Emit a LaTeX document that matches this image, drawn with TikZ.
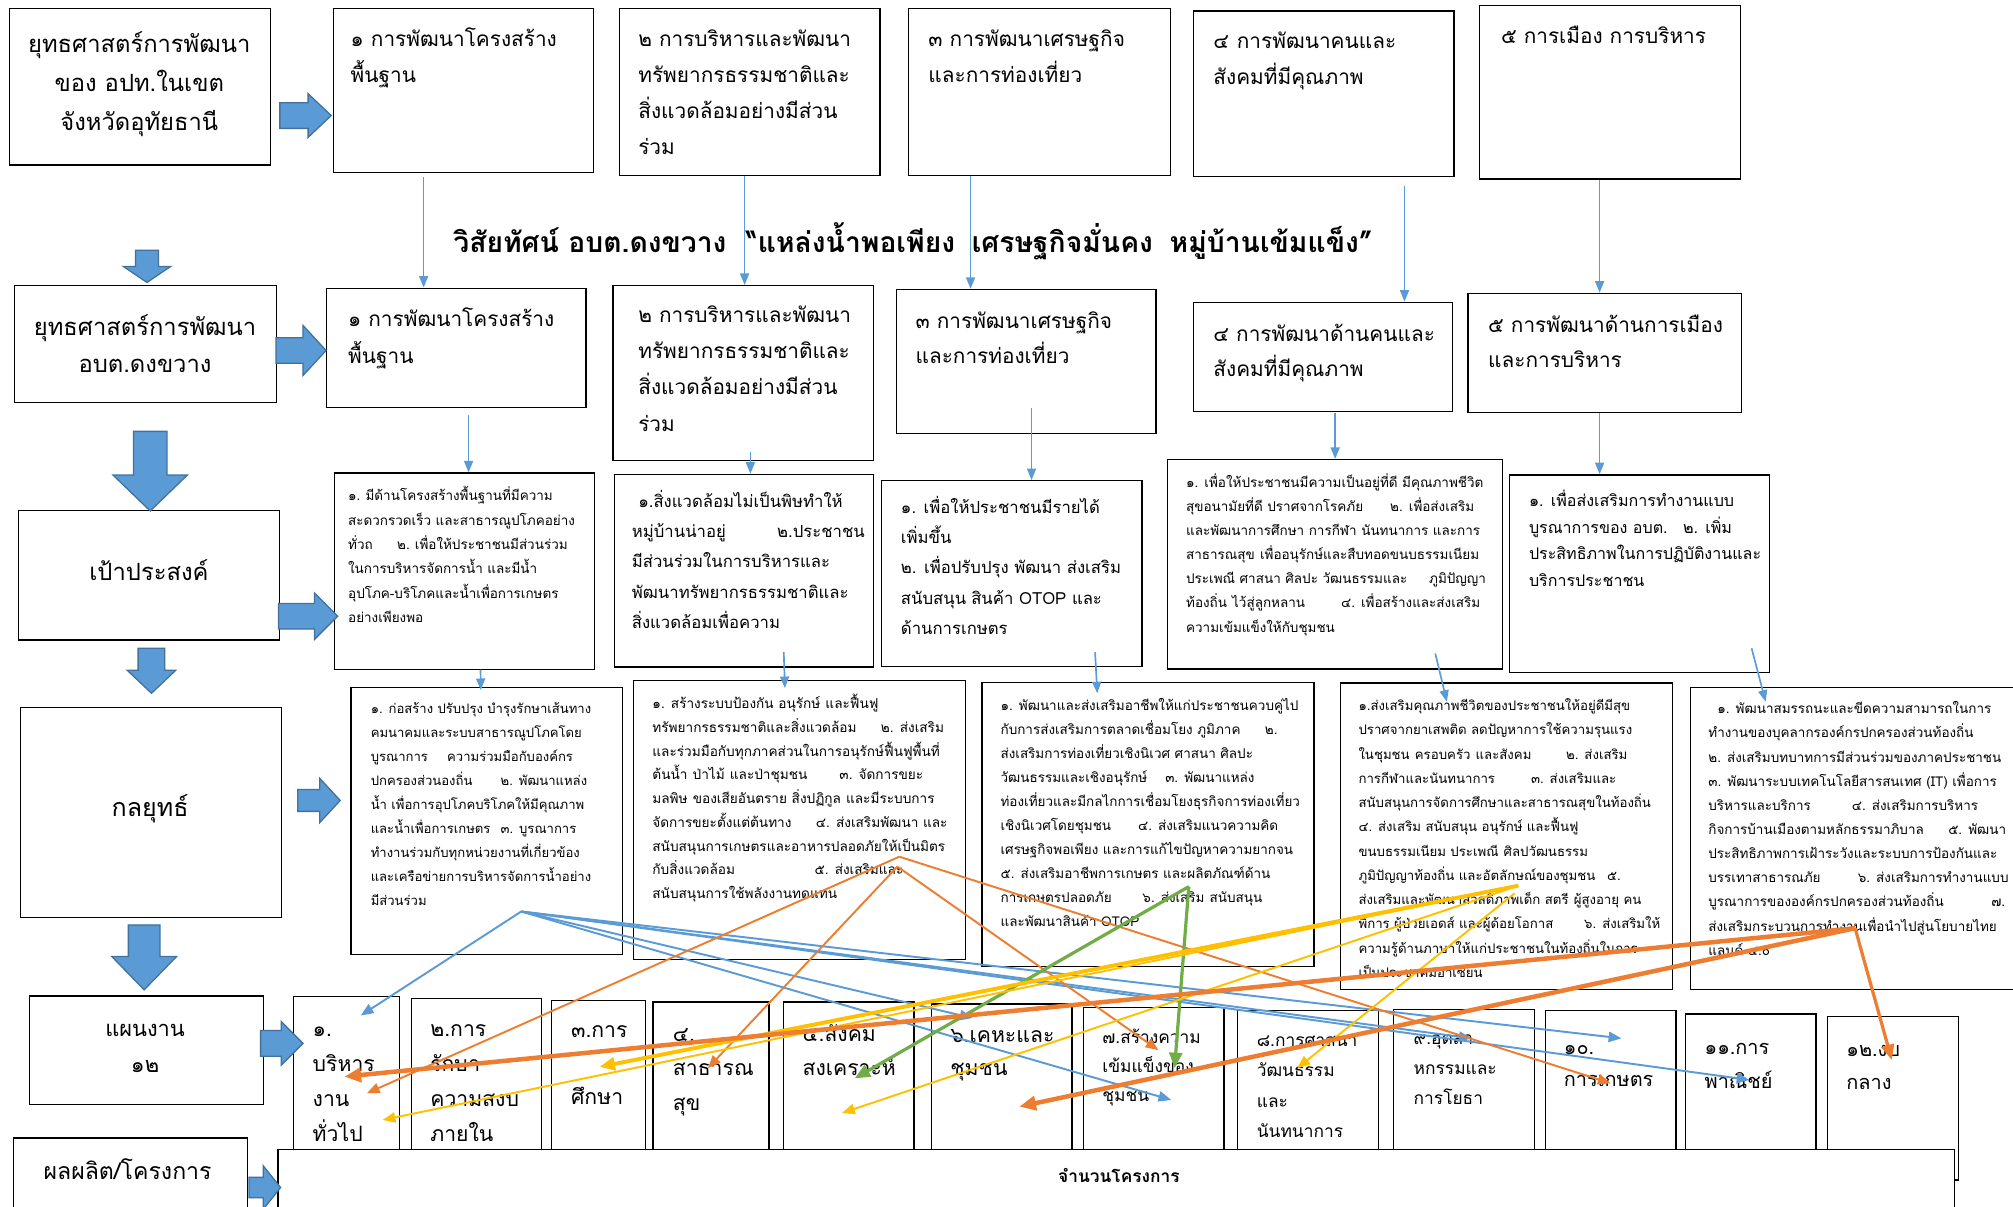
\documentclass[tikz,border=0pt]{standalone}
\usepackage{fontspec}
\newfontfamily\thai[Script=Thai]{Loma}
\usetikzlibrary{arrows.meta,calc}
\definecolor{abl}{HTML}{5B9BD5}
\definecolor{abd}{HTML}{41719C}
\definecolor{aor}{HTML}{ED7D31}
\definecolor{agr}{HTML}{70AD47}
\definecolor{aye}{HTML}{FFC000}
\newcommand\fs[2]{\fontsize{#1}{#2}\selectfont}
\newcommand\lns[1]{\begin{tabular}[t]{@{}l@{}}#1\end{tabular}}
\newcommand\clns[1]{\begin{tabular}[t]{@{}c@{}}#1\end{tabular}}
\newcommand\gp[1]{\hspace*{#1pt}}
\newcommand\bx[5]{\node[box, minimum width={(#4-#2)*1pt}, minimum height={(#5-#3)*1pt}] (#1) at (#2,#3) {};}
\newcommand\tx[5]{\node[txt, font=\thai\fs{#3}{#4}] (#1) at (#2) {\lns{#5}};}
\newcommand\ctx[5]{\node[ctxt, font=\thai\fs{#3}{#4}] (#1) at (#2) {\clns{#5}};}
\newcommand\rarr[6]{\filldraw[barrow] (#1,{#3-#4}) -- (#6,{#3-#4}) -- (#6,{#3-#5}) -- (#2,#3) -- (#6,{#3+#5}) -- (#6,{#3+#4}) -- (#1,{#3+#4}) -- cycle;}
\newcommand\darr[6]{\filldraw[barrow] ({#1-#4},#2) -- ({#1+#4},#2) -- ({#1+#4},#6) -- ({#1+#5},#6) -- (#1,#3) -- ({#1-#5},#6) -- ({#1-#4},#6) -- cycle;}
\begin{document}
\begin{tikzpicture}[x=1pt,y=-1pt,
  box/.style={draw=black, line width=1pt, fill=white, inner sep=0pt, anchor=north west},
  txt/.style={anchor=base west, inner sep=0pt},
  ctxt/.style={anchor=base, inner sep=0pt},
  barrow/.style={fill=abl, draw=abd, line width=1pt},
  conn/.style={draw=abl, line width=1.3pt, -{Triangle[length=9pt,width=7pt]}},
  cthin/.style={line width=1.5pt, -{Triangle[length=10pt,width=8pt]}},
  cmid/.style={line width=2.5pt, -{Triangle[length=12pt,width=10pt]}},
  cthick/.style={line width=3.5pt, -{Triangle[length=13pt,width=11pt]}}]
\useasboundingbox (0,0) rectangle (1568,940);
\fill[white] (0,0) rectangle (1568,940);
\clip (0,0) rectangle (1568,940);
% ---------- boxes ----------
\bx{a1}{7}{6}{210}{128}
\bx{b1}{259}{6}{462}{134}
\bx{b2}{482}{6}{685}{136}
\bx{b3}{707}{6}{911}{136}
\bx{b4}{929}{8}{1132}{137}
\bx{b5}{1152}{4}{1355}{139}
\bx{a2}{11}{222}{215}{313}
\bx{c1}{254}{224}{456}{317}
\bx{c2}{477}{222}{680}{358}
\bx{c3}{698}{225}{900}{337}
\bx{c4}{929}{235}{1131}{320}
\bx{c5}{1143}{228}{1356}{321}
\bx{a3}{14}{397}{217}{498}
\bx{d1}{260}{368}{462.6}{520.8}
\bx{d2}{478}{369}{680}{519}
\bx{d3}{686.4}{374}{889}{518.7}
\bx{d4}{908.7}{357.5}{1170}{520.5}
\bx{d5}{1175.3}{369.4}{1378}{523.6}
\bx{a4}{15.6}{550.4}{218.6}{714}
\bx{e1}{272.8}{535}{484.2}{743}
\bx{e2}{493}{529.7}{751.4}{747}
\bx{e3}{764.3}{531}{1023}{752.5}
\bx{e4}{1043.5}{531.5}{1302}{770}
\bx{e5}{1316}{535}{1580}{770}
\bx{a5}{22.4}{775.3}{204.7}{859.7}
\bx{f1}{228}{775.6}{310.5}{905}
\bx{f2}{320}{777}{421.3}{905}
\bx{f3}{429.2}{779}{502.3}{905}
\bx{f4}{508.2}{780}{598.6}{905}
\bx{f5}{609.6}{780}{711.4}{905}
\bx{f6}{725.3}{781.5}{834.4}{905}
\bx{f7}{843.4}{784}{953}{905}
\bx{f8}{963.2}{786.7}{1073}{905}
\bx{f9}{1085}{785.7}{1194.7}{905}
\bx{f10}{1203.3}{786.7}{1305}{905}
\bx{f11}{1312.5}{789.3}{1414}{905}
\bx{f12}{1423.2}{791}{1524.9}{918.6}
\bx{a6}{10}{886}{192.3}{960}
\bx{g}{216.1}{894.7}{1522}{960}
% ---------- block arrows ----------
\rarr{218}{258}{90}{10}{17}{240}
\rarr{215}{254}{273}{10}{19.5}{236}
\rarr{217}{263}{480}{10}{18}{245}
\rarr{232}{265}{623.5}{8.5}{17.3}{249}
\rarr{203}{236}{812.7}{10}{17}{219}
\rarr{194}{218.6}{925}{8}{17}{205}
\darr{114.5}{195}{220}{9}{18.5}{207.5}
\darr{117}{336}{398}{13}{29}{370}
\darr{118}{505}{540}{10.4}{19}{522}
\darr{112.3}{720.5}{771}{12.3}{25.3}{745}
% ---------- texts ----------
\ctx{a1t}{108.5,41}{18.5}{30.5}{ยุทธศาสตร์การพัฒนา\\ของ อปท.ในเขต\\จังหวัดอุทัยธานี}
\tx{b1t}{273,36}{16.2}{28}{๑ การพัฒนาโครงสร้าง\\พื้นฐาน}
\tx{b2t}{497,36}{16.2}{28}{๒ การบริหารและพัฒนา\\ทรัพยากรธรรมชาติและ\\สิ่งแวดล้อมอย่างมีส่วน\\ร่วม}
\tx{b3t}{723,36}{16.2}{28}{๓ การพัฒนาเศรษฐกิจ\\และการท่องเที่ยว}
\tx{b4t}{945,38}{16.2}{28}{๔\gp{6}การพัฒนาคนและ\\สังคมที่มีคุณภาพ}
\tx{b5t}{1169,34}{16.2}{28}{๕ การเมือง การบริหาร}
\node[txt, font=\thai\bfseries\fs{22}{26}] (ttl1) at (353,197) {วิสัยทัศน์ อบต.ดงขวาง};
\node[txt, font=\thai\bfseries\fs{22}{26}] (ttl2) at (581,197) {“แหล่งน้ำพอเพียง\gp{13}เศรษฐกิจมั่นคง\gp{13}หมู่บ้านเข้มแข็ง”};
\ctx{a2t}{113,261}{18.5}{29}{ยุทธศาสตร์การพัฒนา\\อบต.ดงขวาง}
\tx{c1t}{271,254.5}{16.2}{28.5}{๑ การพัฒนาโครงสร้าง\\พื้นฐาน}
\tx{c2t}{497,251}{16.2}{28.3}{๒ การบริหารและพัฒนา\\ทรัพยากรธรรมชาติและ\\สิ่งแวดล้อมอย่างมีส่วน\\ร่วม}
\tx{c3t}{713,256}{16.2}{27}{๓ การพัฒนาเศรษฐกิจ\\และการท่องเที่ยว}
\tx{c4t}{945,266}{16.2}{27}{๔ การพัฒนาด้านคนและ\\สังคมที่มีคุณภาพ}
\tx{c5t}{1159,259}{16.2}{27}{๕ การพัฒนาด้านการเมือง\\และการบริหาร}
\ctx{a3t}{116,452}{18.5}{24}{เป้าประสงค์}
\tx{d1t}{271,390}{10.5}{19}{๑.\gp{4}มีด้านโครงสร้างพื้นฐานที่มีความ\\สะดวกรวดเร็ว และสาธารณูปโภคอย่าง\\ทั่วถ\gp{19}๒.\gp{4}เพื่อให้ประชาชนมีส่วนร่วม\\ในการบริหารจัดการน้ำ และมีน้ำ\\อุปโภค-บริโภคและน้ำเพื่อการเกษตร\\อย่างเพียงพอ}
\tx{d2t}{492,395}{13}{23.6}{\gp{5}๑.สิ่งแวดล้อมไม่เป็นพิษทำให้\\หมู่บ้านน่าอยู่\gp{40}๒.ประชาชน\\มีส่วนร่วมในการบริหารและ\\พัฒนาทรัพยากรธรรมชาติและ\\สิ่งแวดล้อมเพื่อความ}
\tx{d3t}{701.6,400}{13}{23.5}{๑. เพื่อให้ประชาชนมีรายได้\\เพิ่มขึ้น\\๒. เพื่อปรับปรุง พัฒนา ส่งเสริม\\สนับสนุน\gp{4}สินค้า OTOP และ\\ด้านการเกษตร}
\tx{d4t}{923.7,379.5}{10.5}{18.8}{๑. เพื่อให้ประชาชนมีความเป็นอยู่ที่ดี มีคุณภาพชีวิต\\สุขอนามัยที่ดี ปราศจากโรคภัย\gp{21}๒. เพื่อส่งเสริม\\และพัฒนาการศึกษา การกีฬา นันทนาการ และการ\\สาธารณสุข\gp{4}เพื่ออนุรักษ์และสืบทอดขนบธรรมเนียม\\ประเพณี ศาสนา ศิลปะ วัฒนธรรมและ\gp{17}ภูมิปัญญา\\ท้องถิ่น\gp{4}ไว้สู่ลูกหลาน\gp{28}๔. เพื่อสร้างและส่งเสริม\\ความเข้มแข็งให้กับชุมชน}
\tx{d5t}{1190.8,394.5}{12.5}{20.8}{๑. เพื่อส่งเสริมการทำงานแบบ\\บูรณาการของ อบต.\gp{12}๒. เพิ่ม\\ประสิทธิภาพในการปฏิบัติงานและ\\บริการประชาชน}
\ctx{a4t}{117,636}{19.5}{24}{กลยุทธ์}
\tx{e1t}{288.6,556}{10.2}{18.7}{๑. ก่อสร้าง ปรับปรุง บำรุงรักษาเส้นทาง\\คมนาคมและระบบสาธารณูปโภคโดย\\บูรณาการ\gp{15}ความร่วมมือกับองค์กร\\ปกครองส่วนองถิ่น\gp{22}๒. พัฒนาแหล่ง\\น้ำ เพื่อการอุปโภคบริโภคให้มีคุณภาพ\\และน้ำเพื่อการเกษตร\gp{8}๓. บูรณาการ\\ทำงานร่วมกับทุกหน่วยงานที่เกี่ยวข้อง\\และเครือข่ายการบริหารจัดการน้ำอย่าง\\มีส่วนร่วม}
\tx{e2t}{508,552}{10.6}{18.5}{๑. สร้างระบบป้องกัน อนุรักษ์\gp{4}และฟื้นฟู\\ทรัพยากรธรรมชาติและสิ่งแวดล้อม\gp{19}๒. ส่งเสริม\\และร่วมมือกับทุกภาคส่วนในการอนุรักษ์ฟื้นฟูพื้นที่\\ต้นน้ำ\gp{4}ป่าไม้\gp{4}และป่าชุมชน\gp{25}๓. จัดการขยะ\\มลพิษ\gp{4}ของเสียอันตราย สิ่งปฏิกูล\gp{4}และมีระบบการ\\จัดการขยะตั้งแต่ต้นทาง\gp{19}๔. ส่งเสริมพัฒนา และ\\สนับสนุนการเกษตรและอาหารปลอดภัยให้เป็นมิตร\\กับสิ่งแวดล้อม\gp{62}๕. ส่งเสริมและ\\สนับสนุนการใช้พลังงานทดแทน}
\tx{e3t}{779.2,553.5}{10.5}{18.7}{๑. พัฒนาและส่งเสริมอาชีพให้แก่ประชาชนควบคู่ไป\\กับการส่งเสริมการตลาดเชื่อมโยง ภูมิภาค\gp{19}๒.\\ส่งเสริมการท่องเที่ยวเชิงนิเวศ ศาสนา ศิลปะ\\วัฒนธรรมและเชิงอนุรักษ์\gp{14}๓. พัฒนาแหล่ง\\ท่องเที่ยวและมีกลไกการเชื่อมโยงธุรกิจการท่องเที่ยว\\เชิงนิเวศโดยชุมชน\gp{21}๔. ส่งเสริมแนวความคิด\\เศรษฐกิจพอเพียง และการแก้ไขปัญหาความยากจน\\๕. ส่งเสริมอาชีพการเกษตร และผลิตภัณฑ์ด้าน\\การเกษตรปลอดภัย\gp{24}๖. ส่งเสริม\gp{4}สนับสนุน\\และพัฒนาสินค้า OTOP}
\tx{e4t}{1058,553.5}{10.3}{18.9}{๑.ส่งเสริมคุณภาพชีวิตของประชาชนให้อยู่ดีมีสุข\\ปราศจากยาเสพติด ลดปัญหาการใช้ความรุนแรง\\ในชุมชน\gp{4}ครอบครัว\gp{4}และสังคม\gp{27}๒. ส่งเสริม\\การกีฬาและนันทนาการ\gp{28}๓. ส่งเสริมและ\\สนับสนุนการจัดการศึกษาและสาธารณสุขในท้องถิ่น\\๔. ส่งเสริม สนับสนุน อนุรักษ์ และฟื้นฟู\\ขนบธรรมเนียม ประเพณี\gp{4}ศิลปวัฒนธรรม\\ภูมิปัญญาท้องถิ่น และอัตลักษณ์ของชุมชน\gp{9}๕.\\ส่งเสริมและพัฒนาสวัสดิภาพเด็ก สตรี\gp{4}ผู้สูงอายุ คน\\พิการ ผู้ป่วยเอดส์ และผู้ด้อยโอกาส\gp{24}๖. ส่งเสริมให้\\ความรู้ด้านภาษาให้แก่ประชาชนในท้องถิ่นในการ\\เป็นประชาคมอาเซียน}
\tx{e5t}{1330.5,556}{10.5}{18.8}{\gp{7}๑. พัฒนาสมรรถนะและขีดความสามารถในการ\\ทำงานของบุคลากรองค์กรปกครองส่วนท้องถิ่น\\๒. ส่งเสริมบทบาทการมีส่วนร่วมของภาคประชาชน\\๓. พัฒนาระบบเทคโนโลยีสารสนเทศ (IT) เพื่อการ\\บริหารและบริการ\gp{32}๔. ส่งเสริมการบริหาร\\กิจการบ้านเมืองตามหลักธรรมาภิบาล\gp{19}๕. พัฒนา\\ประสิทธิภาพการเฝ้าระวังและระบบการป้องกันและ\\บรรเทาสาธารณภัย\gp{29}๖. ส่งเสริมการทำงานแบบ\\บูรณาการขององค์กรปกครองส่วนท้องถิ่น\gp{37}๗.\\ส่งเสริมกระบวนการทำงานเพื่อนำไปสู่นโยบายไทย\\แลนด์ ๔.๐}
\ctx{a5t}{113,807}{17}{28.6}{แผนงาน\\๑๒}
\tx{f1t}{243.4,807}{16.5}{27.3}{๑.\\บริหาร\\งาน\\ทั่วไป}
\tx{f2t}{335,807}{16.5}{27.3}{๒.การ\\รักษา\\ความสงบ\\ภายใน}
\tx{f3t}{444.6,808}{16.5}{26}{๓.การ\\\\ศึกษา}
\tx{f4t}{524,811}{16.5}{27}{๔.\\สาธารณ\\สุข}
\tx{f5t}{625,811}{16.5}{27}{๕.สังคม\\สงเคราะห์}
\tx{f6t}{740,812}{16.5}{26}{๖.เคหะและ\\ชุมชน}
\tx{f7t}{858.5,813}{13.5}{22.3}{๗.สร้างความ\\เข้มแข็งของ\\ชุมชน}
\tx{f8t}{978.8,815}{13.5}{23.7}{๘.การศาสนา\\วัฒนธรรม\\และ\\นันทนาการ}
\tx{f9t}{1101,813.5}{13.5}{23.3}{๙.อุตสา\\หกรรมและ\\การโยธา}
\tx{f10t}{1218,821.5}{15.5}{25}{๑๐.\\การเกษตร}
\tx{f11t}{1327.6,821.5}{15.5}{26}{๑๑.การ\\พาณิชย์}
\tx{f12t}{1438,823}{15.5}{26}{๑๒.งบ\\กลาง}
\ctx{a6t}{99.4,919}{18}{24}{ผลผลิต/โครงการ}
\node[txt, font=\thai\bfseries\fs{13.5}{18}] (gt) at (824,921) {จำนวนโครงการ};
% ---------- vertical connectors ----------
\coordinate (b1s) at (330,138);  \draw[conn] (b1s) -- (b1s |- c1.north);
\coordinate (b2s) at (580,137);  \draw[conn] (b2s) -- (b2s |- c2.north);
\coordinate (b3s) at (756,137);  \draw[conn] (b3s) -- (b3s |- c3.north);
\coordinate (b4s) at (1094,145); \draw[conn] (b4s) -- (b4s |- c4.north);
\coordinate (b5s) at (1246,140); \draw[conn] (b5s) -- (b5s |- c5.north);
\coordinate (c1s) at (365,323);  \draw[conn] (c1s) -- (c1s |- d1.north);
\coordinate (c2s) at (584.5,352); \draw[conn] (c2s) -- (c2s |- d2.north);
\coordinate (c3s) at (803.5,318); \draw[conn] (c3s) -- (c3s |- d3.north);
\coordinate (c4s) at (1040,322); \draw[conn] (c4s) -- (c4s |- d4.north);
\coordinate (c5s) at (1246,322); \draw[conn] (c5s) -- (c5s |- d5.north);
\coordinate (d1s) at (374.3,521.5); \coordinate (d1e) at (374.5,537.5); \draw[conn] (d1s) -- (d1e);
\coordinate (d2s) at (610.5,508); \coordinate (d2e) at (611.4,536); \draw[conn] (d2s) -- (d2e);
\coordinate (d3s) at (853,508); \coordinate (d3e) at (854.7,540); \draw[conn] (d3s) -- (d3e);
\coordinate (d4s) at (1118,509); \coordinate (d4e) at (1127,546.6); \draw[conn] (d4s) -- (d4e);
\coordinate (d5s) at (1364.4,505); \coordinate (d5e) at (1375.3,546.6); \draw[conn] (d5s) -- (d5e);
% ---------- strategy -> plan connectors ----------
\coordinate (s1) at (406,710);
\coordinate (s2a) at (700.5,667.3);
\coordinate (s2b) at (699,675);
\coordinate (s3) at (926,690.6);
\coordinate (s4a) at (1182.6,689.9);
\coordinate (s4b) at (1179.8,695.8);
\coordinate (s5) at (1445,723);
\coordinate (t1) at (281,791);
\coordinate (t2) at (757.6,793);
\coordinate (t3) at (912.4,856.8);
\coordinate (t4) at (1146.4,808.8);
\coordinate (t5) at (1263,808.8);
\coordinate (t6) at (1362.8,841.2);
\coordinate (t7) at (285.7,851.6);
\coordinate (t8) at (551.4,832);
\coordinate (t9) at (902.3,818);
\coordinate (t10) at (1254.6,843.8);
\coordinate (t11) at (665.7,840);
\coordinate (t12) at (914.9,832);
\coordinate (t13) at (467,831);
\coordinate (t14) at (298,872.4);
\coordinate (t15) at (655.8,867);
\coordinate (t16) at (1010.5,832);
\coordinate (t17) at (268.3,838.6);
\coordinate (t18) at (794,862);
\coordinate (t19) at (1473.6,825.7);
\foreach \t in {t1,t2,t3,t4,t5,t6} \draw[cthin, draw=abl] (s1) -- (\t);
\draw[cthin, draw=aor] (s2a) -- (t7);
\draw[cthin, draw=aor] (s2b) -- (t8);
\draw[cthin, draw=aor] (s2b) -- (t9);
\draw[cthin, draw=aor] (s2a) -- (t10);
\draw[cmid, draw=agr] (s3) -- (t11);
\draw[cmid, draw=agr] (s3) -- (t12);
\draw[line width=3pt, draw=aye, -{Triangle[length=12pt,width=10pt]}] (s4a) -- (t13);
\draw[cthin, draw=aye] (s4a) -- (t14);
\draw[cthin, draw=aye] (s4a) -- (t15);
\draw[cthin, draw=aye] (s4b) -- (t16);
\draw[cthick, draw=aor] (s5) -- (t17);
\draw[cthick, draw=aor] (s5) -- (t18);
\draw[cmid, draw=aor] (s5) -- (t19);
\end{tikzpicture}
\end{document}
